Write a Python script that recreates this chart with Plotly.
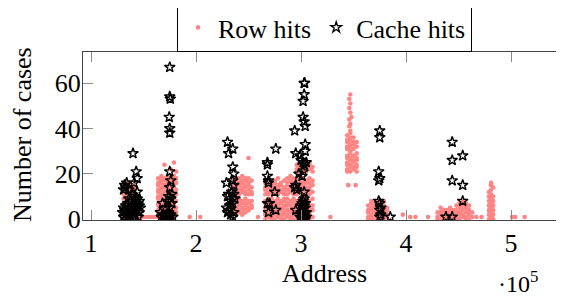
import plotly.graph_objects as go

# ---------------- data (addresses in units of 1e5, counts) ----------------
SCALE = 1e5

# Row hits: clusters given as address columns with their observed counts
row_a_x = [1.31, 1.34, 1.37, 1.40, 1.43, 1.46]
row_a_y = [[0, 1, 2, 4, 5, 7, 9, 11, 12, 14, 15],
           [0, 1, 3, 4, 6, 8, 9, 10, 12, 13, 15, 16],
           [0, 2, 3, 5, 6, 7, 9, 11, 13, 14, 16],
           [1, 2, 4, 5, 7, 8, 10, 12, 13, 15],
           [0, 1, 3, 5, 6, 8, 9, 11, 14],
           [0, 2, 3, 4, 6, 7]]

row_b_x = [1.64, 1.67, 1.70, 1.73, 1.76, 1.79, 1.81]
row_b_y = [[1, 2, 4, 6, 7, 9, 10, 12, 13, 15, 16, 18],
           [0, 1, 3, 5, 6, 8, 10, 11, 13, 14, 16, 17, 19],
           [0, 2, 4, 5, 7, 9, 11, 12, 14, 15, 17, 18, 24],
           [1, 3, 4, 6, 8, 10, 11, 13, 15, 16, 18, 19],
           [0, 2, 3, 5, 7, 9, 12, 14, 15, 17, 18, 22],
           [1, 2, 4, 6, 8, 10, 11, 13, 14, 16, 17, 19, 25],
           [3, 5, 8, 11, 13, 16, 18, 21]]

row_c_x = [2.35, 2.38, 2.41, 2.44, 2.47, 2.50, 2.53]
row_c_y = [[3, 5, 6, 8, 11, 13, 14, 16, 18],
           [2, 4, 5, 7, 9, 11, 12, 14, 15, 17],
           [3, 4, 6, 8, 9, 11, 13, 15, 16, 18],
           [2, 3, 5, 7, 8, 12, 13, 14, 16, 17, 19],
           [3, 4, 6, 7, 9, 11, 12, 14, 15, 17, 18],
           [4, 5, 7, 8, 11, 13, 15, 16, 18, 27],
           [5, 6, 8, 11, 12, 14, 17]]

row_d_x = [2.66, 2.69, 2.72, 2.75, 2.78, 2.81, 2.84, 2.87, 2.90, 2.93,
           2.96, 2.99, 3.02, 3.05, 3.08, 3.11]
row_d_y = [[0, 2, 3, 5, 7, 8, 11, 13, 14, 16],
           [1, 2, 4, 6, 7, 9, 11, 12, 14, 15, 17],
           [0, 1, 3, 5, 6, 8, 9, 12, 13, 15, 16],
           [0, 2, 4, 5, 7, 8, 11, 12, 14, 16, 17],
           [1, 3, 4, 6, 7, 9, 11, 13, 14, 15, 18],
           [0, 1, 2, 4, 5, 7, 8, 12, 13, 15, 16],
           [0, 2, 3, 5, 6, 8, 9, 11, 12, 14, 17],
           [1, 2, 4, 6, 7, 9, 11, 13, 15, 16, 18],
           [0, 1, 3, 4, 6, 8, 12, 13, 14, 17, 19],
           [0, 2, 3, 5, 7, 9, 11, 12, 15, 16, 18],
           [1, 2, 4, 5, 7, 8, 11, 13, 14, 16, 17, 21, 22, 24],
           [0, 1, 3, 5, 6, 8, 9, 12, 14, 15, 17, 18, 21, 23, 25],
           [0, 2, 3, 4, 6, 7, 9, 11, 13, 15, 16, 18, 21, 22, 24],
           [1, 2, 4, 5, 7, 8, 10, 12, 14, 16, 17, 21, 23, 24],
           [0, 2, 3, 5, 6, 8, 11, 13, 14, 16, 18, 22, 24, 25],
           [1, 4, 6, 9, 12, 15, 17, 21, 23]]

row_e_x = [3.44, 3.47, 3.50, 3.53]
row_e_y = [[21, 22, 24, 25, 27, 28, 31, 32, 34, 35, 37],
           [21, 23, 24, 26, 27, 29, 30, 32, 33, 35, 36, 38],
           [22, 23, 25, 26, 28, 31, 33, 34, 36],
           [21, 23, 24, 26, 27, 29, 32, 34]]
row_e_tail_x = [3.47, 3.46, 3.47, 3.46, 3.47, 3.48, 3.46, 3.47, 3.46, 3.47, 3.45, 3.52]
row_e_tail_y = [55, 53, 51, 49, 47, 45, 44, 42, 41, 39, 15, 15]

row_f_x = [3.64, 3.67, 3.70, 3.73, 3.76, 3.79, 3.82]
row_f_y = [[0, 1, 3, 4, 6],
           [0, 1, 2, 4, 5, 7, 8],
           [0, 2, 3, 5, 6, 7],
           [1, 2, 4, 5, 7, 8],
           [0, 1, 3, 4, 6, 7, 8],
           [0, 2, 3, 5, 6, 8],
           [1, 2, 4, 5]]

row_g_x = [4.30, 4.33, 4.36, 4.39, 4.42, 4.45, 4.48, 4.51, 4.54, 4.57, 4.60, 4.63]
row_g_y = [[0, 1, 3], [0, 2, 3, 5], [1, 2, 4], [0, 1, 3, 4], [0, 2, 3, 5], [1, 2, 4],
           [0, 1, 3, 4, 6], [0, 2, 3, 5, 7], [1, 2, 4, 6, 8], [0, 1, 3, 5, 7],
           [0, 2, 4, 6], [1, 3]]

row_h_x = [4.79, 4.81, 4.83]
row_h_y = [[0, 2, 4, 6, 8, 10, 12],
           [1, 3, 5, 7, 9, 11, 13, 15, 16],
           [0, 2, 4, 6, 8, 10, 14]]

row_sparse_x = [1.49, 1.52, 1.55, 1.58, 1.61, 1.94, 2.04, 2.59, 3.28, 3.97,
                4.04, 4.09, 4.21, 4.67, 4.72, 5.01, 5.04, 5.13]
row_sparse_y = [1, 1, 1, 1, 1, 1, 1, 1, 1, 2, 1, 1, 1, 1, 1, 1, 1, 1]

# Cache hits
cache_a_x = [1.40, 1.43, 1.44, 1.41, 1.32, 1.33, 1.34, 1.36, 1.31, 1.39, 1.42, 1.44,
             1.45, 1.43, 1.46, 1.41, 1.38, 1.35, 1.33, 1.31, 1.32, 1.34, 1.36, 1.31,
             1.33, 1.35, 1.37, 1.39, 1.40, 1.42, 1.44, 1.45, 1.46, 1.38, 1.42, 1.44,
             1.46, 1.36, 1.30, 1.47]
cache_a_y = [29, 21, 18, 16, 15, 14, 16, 13, 13, 11, 10, 9,
             7, 8, 6, 6, 8, 7, 6, 5, 4, 3, 2, 1,
             0, 1, 4, 3, 1, 2, 4, 1, 3, 5, 5, 12,
             8, 9, 3, 5]
cache_b_x = [1.75, 1.75, 1.755, 1.745, 1.75, 1.75, 1.75, 1.76, 1.75, 1.77, 1.74, 1.76,
             1.73, 1.77, 1.68, 1.71, 1.75, 1.74, 1.72, 1.67, 1.69, 1.76, 1.78, 1.73,
             1.75, 1.66, 1.70]
cache_b_y = [67, 54, 53, 45, 40, 38, 21, 17, 14, 11, 10, 9,
             8, 7, 7, 5, 5, 3, 2, 1, 2, 2, 1, 0,
             1, 3, 1]
cache_c_x = [2.30, 2.35, 2.31, 2.35, 2.36, 2.29, 2.35, 2.36, 2.31, 2.36, 2.30, 2.33,
             2.35, 2.31, 2.30, 2.33, 2.36, 2.35, 2.29, 2.32, 2.37, 2.34]
cache_c_y = [34, 31, 29, 23, 20, 16, 17, 15, 11, 11, 10, 8,
             7, 4, 3, 2, 3, 1, 5, 6, 9, 12]
cache_d_x = [2.68, 2.68, 2.76, 2.68, 2.69, 2.69, 2.75, 2.68, 2.70, 2.69, 2.76,
             3.03, 3.035, 3.03, 3.02, 3.02, 3.03, 3.04, 2.94, 3.04, 3.04, 2.95, 2.99,
             3.02, 3.03, 3.02, 3.01, 2.95, 2.94, 2.96, 3.03, 3.02, 3.01, 3.03, 3.04,
             3.02, 3.00, 3.03, 3.05, 3.01, 2.95, 3.04, 3.00, 3.03, 3.05, 2.99, 3.02,
             3.04, 2.98, 3.00, 3.05]
cache_d_y = [25, 24, 31, 19, 17, 16, 12, 7, 7, 3, 4,
             60, 60, 55, 52, 45, 43, 41, 39, 33, 30, 29, 28,
             25, 24, 21, 19, 15, 14, 13, 12, 8, 7, 6, 5,
             4, 3, 2, 1, 0, 4, 7, 6, 9, 3, 1, 1,
             0, 20, 26, 25]
cache_f_x = [3.75, 3.75, 3.74, 3.75, 3.74, 3.74, 3.75, 3.76, 3.75, 3.76, 3.75, 3.85]
cache_f_y = [39, 36, 21, 18, 17, 8, 7, 5, 4, 2, 1, 1]
cache_g_x = [4.44, 4.44, 4.54, 4.44, 4.54, 4.54, 4.38, 4.44]
cache_g_y = [34, 26, 28, 17, 15, 8, 1, 1]

x_ticks = [1, 2, 3, 4, 5]
x_tick_labels = ["1", "2", "3", "4", "5"]
y_ticks = [0, 20, 40, 60]
y_tick_labels = ["0", "20", "40", "60"]

# ---------------- assemble series ----------------
row_x, row_y = [], []
for cols, ys in [(row_a_x, row_a_y), (row_b_x, row_b_y), (row_c_x, row_c_y),
                 (row_d_x, row_d_y), (row_e_x, row_e_y), (row_f_x, row_f_y),
                 (row_g_x, row_g_y), (row_h_x, row_h_y)]:
    for cx, cy in zip(cols, ys):
        for v in cy:
            row_x.append(cx * SCALE)
            row_y.append(v)
for xs, ys in [(row_e_tail_x, row_e_tail_y), (row_sparse_x, row_sparse_y)]:
    row_x += [v * SCALE for v in xs]
    row_y += ys

cache_x, cache_y = [], []
for xs, ys in [(cache_a_x, cache_a_y), (cache_b_x, cache_b_y), (cache_c_x, cache_c_y),
               (cache_d_x, cache_d_y), (cache_f_x, cache_f_y), (cache_g_x, cache_g_y)]:
    cache_x += [v * SCALE for v in xs]
    cache_y += ys

FONT = "Liberation Serif, Times New Roman, serif"

fig = go.Figure()
fig.add_trace(go.Scatter(
    x=row_x, y=row_y, mode="markers", name="Row hits",
    marker=dict(color="#ff8585", size=4.6, line=dict(width=0)),
))
fig.add_trace(go.Scatter(
    x=cache_x, y=cache_y, mode="markers", name="Cache hits",
    marker=dict(symbol="star-open", color="black", size=8,
                line=dict(width=1.4, color="black")),
))

axis_common = dict(
    showline=True, linecolor="#444", linewidth=1.3, mirror="ticks",
    ticks="inside", ticklen=10, tickwidth=1.2, tickcolor="#8a8a8a",
    showgrid=False, zeroline=False,
    tickfont=dict(family=FONT, size=26, color="black"),
)

# page body adds an 8px offset; plot area lands at window px x 83..566, y 52..220
fig.update_layout(
    width=564, height=296,
    margin=dict(l=75, r=6, t=44, b=84, autoexpand=False),
    paper_bgcolor="white", plot_bgcolor="white",
    font=dict(family=FONT, size=26, color="black"),
    xaxis=dict(range=[0.9238 * SCALE, 5.5238 * SCALE],
               tickvals=[t * SCALE for t in x_ticks], ticktext=x_tick_labels,
               ticklabelstandoff=0, automargin=False, **axis_common),
    yaxis=dict(range=[-0.35, 73.7], tickvals=y_ticks, ticktext=y_tick_labels,
               ticklabelstandoff=-4, automargin=False, **axis_common),
    showlegend=True,
    legend=dict(orientation="h", x=0.5, xanchor="center", y=1.2917, yanchor="top",
                bordercolor="black", borderwidth=1, bgcolor="white",
                font=dict(family=FONT, size=26, color="black"),
                itemwidth=30),
    annotations=[
        dict(text="Number of cases", xref="paper", yref="paper",
             x=-0.1242, y=0.506, textangle=-90, showarrow=False,
             xanchor="center", yanchor="middle",
             font=dict(family=FONT, size=26, color="black")),
        dict(text="Address", xref="paper", yref="paper",
             x=0.499, y=-0.321, showarrow=False, xanchor="center", yanchor="middle",
             font=dict(family=FONT, size=26, color="black")),
        dict(text="·10<sup>5</sup>", xref="paper", yref="paper",
             x=0.9006, y=-0.37, showarrow=False, xanchor="center", yanchor="middle",
             font=dict(family=FONT, size=24, color="black")),
    ],
)

fig.write_html("out.html")
